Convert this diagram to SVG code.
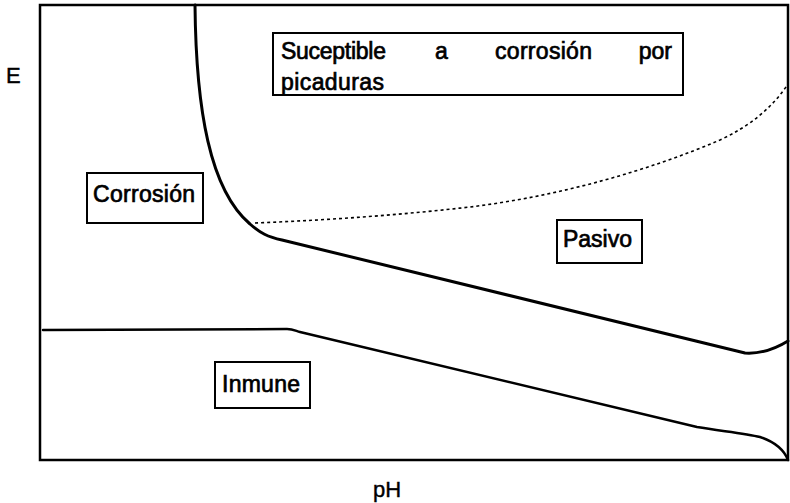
<svg xmlns="http://www.w3.org/2000/svg" width="790" height="503" viewBox="0 0 790 503">
<style>
  text { font-family: "Liberation Sans", Arial, sans-serif; font-size: 23px; fill: #000; stroke: #000; stroke-width: 0.7; }
  .axis { font-size: 22px; stroke-width: 0.4; }
  .box { fill: #fff; stroke: #000; stroke-width: 2; }
  .frame { fill: none; stroke: #000; stroke-width: 2.5; }
  .curve { fill: none; stroke: #000; stroke-width: 3; stroke-linejoin: round; stroke-linecap: round; }
  .thin { fill: none; stroke: #000; stroke-width: 2.5; stroke-linejoin: round; stroke-linecap: round; }
  .dot { fill: none; stroke: #000; stroke-width: 1.6; stroke-dasharray: 3 3; }
</style>
<rect width="790" height="503" fill="#fff"/>
<g id="connectors">
  <rect class="frame" x="40" y="5" width="748" height="455"/>
  <path class="curve" d="M195,5 C196,110 210,190 250,224 C260,233 268,237 282,240 L745,353 C760,354 775,349 788,341"/>
  <path class="thin" d="M43,330 L287,329 C293,329 296,331 300,332 L697,427 C720,431 745,433 760,437 C775,442 784,450 788,460"/>
  <path class="dot" d="M255,223 C330,220 400,215 470,207 C560,196 650,170 720,140 C750,126 772,108 788,84"/>
</g>
<g id="node-susceptible">
  <rect class="box" x="273" y="33" width="410" height="62"/>
  <text x="281" y="59" textLength="105">Suceptible</text>
  <text x="435" y="59">a</text>
  <text x="495" y="59" textLength="97">corrosión</text>
  <text x="672" y="59" text-anchor="end">por</text>
  <text x="281" y="90" textLength="103">picaduras</text>
</g>
<g id="node-corrosion">
  <rect class="box" x="87" y="173" width="116" height="50"/>
  <text x="93" y="202" textLength="102">Corrosión</text>
</g>
<g id="node-pasivo">
  <rect class="box" x="557" y="220" width="85" height="43"/>
  <text x="563" y="247" textLength="69">Pasivo</text>
</g>
<g id="node-inmune">
  <rect class="box" x="215" y="362" width="95" height="46"/>
  <text x="222" y="392" textLength="78">Inmune</text>
</g>
<g id="axis-labels">
  <text class="axis" x="6" y="83">E</text>
  <text class="axis" x="373" y="497">pH</text>
</g>
</svg>
